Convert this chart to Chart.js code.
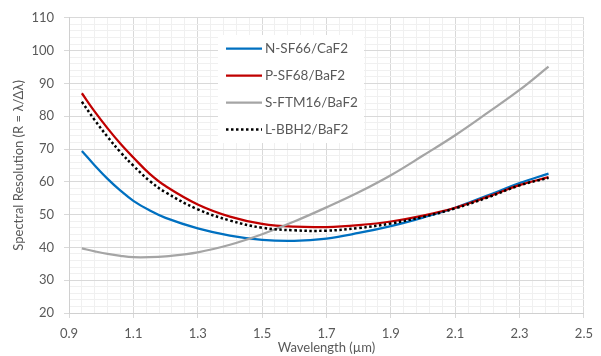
<!DOCTYPE html>
<html>
<head>
<meta charset="utf-8">
<script src="https://cdn.jsdelivr.net/npm/chart.js@4"></script>
<style>
  body { margin: 0; background: #fff; }
  canvas { display: block; }
</style>
</head>
<body>
<canvas id="myChart" width="601" height="356"></canvas>
<script>
// wavelength samples (um)
const wavelengths = [0.94, 0.98, 1.02, 1.06, 1.1, 1.15, 1.2, 1.3, 1.4, 1.5, 1.6, 1.7, 1.8, 1.9, 2.0, 2.1, 2.2, 2.3, 2.39]

const labels = ['N-SF66/CaF2', 'P-SF68/BaF2', 'S-FTM16/BaF2', 'L-BBH2/BaF2']

const nsf66 = [69.4, 65.0, 60.9, 57.3, 54.2, 51.3, 49.0, 45.8, 43.6, 42.3, 42.0, 42.7, 44.4, 46.5, 49.1, 52.1, 55.8, 59.6, 62.5]
const psf68 = [87.0, 81.4, 76.3, 71.6, 67.4, 62.5, 58.7, 53.1, 49.4, 47.2, 46.3, 46.2, 46.8, 47.9, 49.7, 52.1, 55.4, 59.0, 61.4]
const sftm16 = [39.7, 38.8, 38.0, 37.4, 37.0, 37.0, 37.3, 38.5, 40.8, 44.0, 47.9, 52.2, 56.8, 62.0, 68.0, 74.2, 81.0, 88.0, 95.1]
const lbbh2 = [84.4, 78.8, 73.7, 69.0, 64.9, 60.3, 56.8, 51.6, 48.2, 46.0, 45.2, 45.1, 45.9, 47.3, 49.3, 51.9, 55.2, 58.9, 61.2]

const xTicks = ['0.9', '1.1', '1.3', '1.5', '1.7', '1.9', '2.1', '2.3', '2.5']
const yTicks = [20, 30, 40, 50, 60, 70, 80, 90, 100, 110]

const colors = ['#0070c0', '#c00000', '#a5a5a5', '#000000']

function pts(arr) {
    return arr.map((v, i) => ({ x: wavelengths[i], y: v }))
}

const isMajorX = v => xTicks.some(t => Math.abs(parseFloat(t) - v) < 1e-6)
const isMajorY = v => yTicks.some(t => Math.abs(t - v) < 1e-6)

const FONT = 'Lato, "Liberation Sans", sans-serif'
const TXT = '#595959'

// legend drawn inside the plot area
const insideLegend = {
    id: 'insideLegend',
    afterDraw(chart) {
        const ctx = chart.ctx
        ctx.save()
        ctx.fillStyle = '#ffffff'
        ctx.fillRect(218, 35, 146, 108)
        chart.data.datasets.forEach((ds, i) => {
            const y = 48.5 + i * 27
            ctx.beginPath()
            ctx.strokeStyle = ds.borderColor
            ctx.lineWidth = ds.borderWidth
            ctx.setLineDash(ds.borderDash || [])
            ctx.moveTo(226, y)
            ctx.lineTo(262, y)
            ctx.stroke()
            ctx.setLineDash([])
            ctx.fillStyle = TXT
            ctx.font = '13.5px ' + FONT
            ctx.textBaseline = 'middle'
            ctx.fillText(ds.label, 265, y)
        })
        ctx.restore()
    }
}

var ctx = document.getElementById('myChart')

var myChart = new Chart(ctx, {
    type: 'line',
    data: {
        datasets: [
            { label: labels[0], data: pts(nsf66), borderColor: colors[0], borderWidth: 2.25, order: 3 },
            { label: labels[1], data: pts(psf68), borderColor: colors[1], borderWidth: 2.25, order: 2 },
            { label: labels[2], data: pts(sftm16), borderColor: colors[2], borderWidth: 2.25, order: 1 },
            { label: labels[3], data: pts(lbbh2), borderColor: colors[3], borderWidth: 2.5, borderDash: [2.5, 2.5], order: 0 }
        ]
    },
    options: {
        responsive: false,
        animation: false,
        layout: { padding: { top: 16, right: 14, left: 0, bottom: 0 } },
        elements: {
            point: { radius: 0 },
            line: { tension: 0.4, fill: false }
        },
        plugins: {
            legend: { display: false },
            tooltip: { enabled: false }
        },
        scales: {
            x: {
                type: 'linear',
                min: 0.9,
                max: 2.5,
                afterFit: s => { s.height = 43 },
                ticks: {
                    stepSize: 0.04,
                    autoSkip: false,
                    maxTicksLimit: 100,
                    maxRotation: 0,
                    padding: 8,
                    color: TXT,
                    font: { family: FONT, size: 13 },
                    callback: v => isMajorX(v) ? v.toFixed(1) : ''
                },
                grid: {
                    color: c => isMajorX(c.tick.value) ? '#d9d9d9' : '#f0f0f0',
                    tickColor: c => isMajorX(c.tick.value) ? '#d9d9d9' : 'rgba(0,0,0,0)',
                    tickLength: 5
                },
                border: { color: '#d0d0d0' },
                title: {
                    display: true,
                    text: 'Wavelength (µm)',
                    color: TXT,
                    font: { family: FONT, size: 13 },
                    padding: { top: 0, bottom: 0 }
                }
            },
            y: {
                min: 20,
                max: 110,
                afterFit: s => { s.width = 69 },
                ticks: {
                    stepSize: 2,
                    autoSkip: false,
                    maxTicksLimit: 100,
                    padding: 10,
                    color: TXT,
                    font: { family: FONT, size: 13 },
                    callback: v => isMajorY(v) ? v : ''
                },
                grid: {
                    color: c => isMajorY(c.tick.value) ? '#d9d9d9' : '#f0f0f0',
                    tickColor: c => isMajorY(c.tick.value) ? '#d9d9d9' : 'rgba(0,0,0,0)',
                    tickLength: 5
                },
                border: { color: '#d0d0d0' },
                title: {
                    display: true,
                    text: 'Spectral Resolution (R = λ/Δλ)',
                    color: TXT,
                    font: { family: FONT, size: 13 },
                    padding: { top: 11, bottom: 0 }
                }
            }
        }
    },
    plugins: [insideLegend]
})
</script>
</body>
</html>
